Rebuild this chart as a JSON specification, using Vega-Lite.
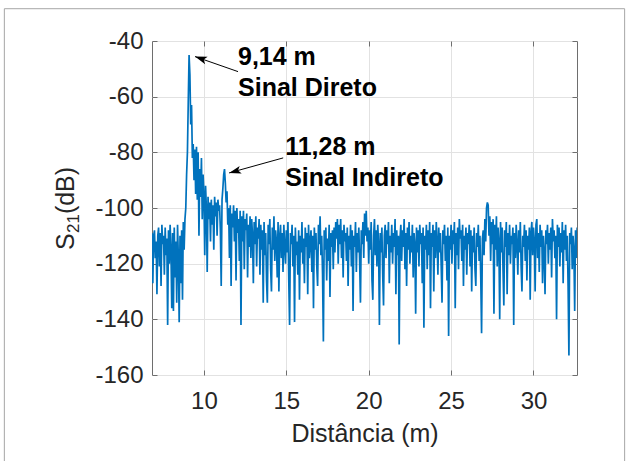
{
"$schema":"https://vega.github.io/schema/vega-lite/v6.json",
"width":425,"height":334,
"autosize":"none",
"padding":{"left":152,"top":41,"right":53,"bottom":86},
"background":"white",
"config":{
 "view":{"stroke":"#6e6e6e","strokeWidth":1},
 "font":"Liberation Sans",
 "axis":{"domain":false,"grid":true,"gridColor":"#e2e2e2","gridWidth":1,"ticks":true,"tickColor":"#6e6e6e","tickSize":-5,"labelFont":"Liberation Sans","labelFontSize":24,"labelColor":"#262626","titleFont":"Liberation Sans","titleFontSize":25,"titleFontWeight":"normal","titleColor":"#262626"}
},
"resolve":{"axis":{"x":"independent","y":"independent"}},
"layer":[
{
"encoding":{
 "x":{"field":"d","type":"quantitative","scale":{"domain":[6.85,32.64],"nice":false,"zero":false},"axis":{"title":"Distância (m)","values":[10,15,20,25,30],"labelExpr":"''+datum.value","labelPadding":19,"titlePadding":8}},
 "y":{"field":"s","type":"quantitative","scale":{"domain":[-160,-40],"nice":false,"zero":false},"axis":{"title":null,"values":[-160,-140,-120,-100,-80,-60,-40],"labelExpr":"''+datum.value","labelPadding":14}}
},
"layer":[
 {"data":{"values":[{"d":-2.11,"s":-28.4,"d2":35.53,"s2":-194}]},
  "mark":{"type":"rect","fill":"transparent","stroke":"#a6a6a6","strokeWidth":1,"clip":false},
  "encoding":{"x2":{"field":"d2"},"y2":{"field":"s2"}}},
 {"data":{"values":[
{"d":6.85,"s":-109},{"d":6.9,"s":-127},{"d":6.95,"s":-110},{"d":7,"s":-108},{"d":7.05,"s":-118},{"d":7.1,"s":-112},{"d":7.15,"s":-131},{"d":7.2,"s":-110},{"d":7.25,"s":-107},{"d":7.3,"s":-121},{"d":7.35,"s":-109},{"d":7.4,"s":-128},{"d":7.45,"s":-106},{"d":7.5,"s":-113},{"d":7.55,"s":-110},{"d":7.6,"s":-124},{"d":7.65,"s":-107},{"d":7.7,"s":-117},{"d":7.75,"s":-111},{"d":7.8,"s":-142},
{"d":7.85,"s":-108},{"d":7.9,"s":-120},{"d":7.95,"s":-106},{"d":8,"s":-115},{"d":8.05,"s":-136},{"d":8.1,"s":-109},{"d":8.15,"s":-137},{"d":8.2,"s":-107},{"d":8.25,"s":-125},{"d":8.3,"s":-112},{"d":8.35,"s":-134},{"d":8.4,"s":-106},{"d":8.45,"s":-118},{"d":8.5,"s":-141},{"d":8.55,"s":-110},{"d":8.6,"s":-127},{"d":8.65,"s":-108},{"d":8.7,"s":-133},{"d":8.75,"s":-105},{"d":8.8,"s":-115},
{"d":8.85,"s":-104},{"d":8.9,"s":-100},{"d":8.95,"s":-88},{"d":9,"s":-80},{"d":9.05,"s":-62},{"d":9.1,"s":-45},{"d":9.15,"s":-52},{"d":9.2,"s":-70},{"d":9.25,"s":-63},{"d":9.3,"s":-82},{"d":9.35,"s":-77},{"d":9.4,"s":-90},{"d":9.45,"s":-79},{"d":9.5,"s":-95},{"d":9.55,"s":-78},{"d":9.6,"s":-97},{"d":9.65,"s":-80},{"d":9.7,"s":-110},{"d":9.75,"s":-86},{"d":9.8,"s":-96},
{"d":9.85,"s":-82},{"d":9.9,"s":-104},{"d":9.95,"s":-88},{"d":10,"s":-95},{"d":10.05,"s":-117},{"d":10.1,"s":-92},{"d":10.15,"s":-100},{"d":10.2,"s":-123},{"d":10.25,"s":-96},{"d":10.3,"s":-104},{"d":10.35,"s":-98},{"d":10.4,"s":-112},{"d":10.45,"s":-97},{"d":10.5,"s":-106},{"d":10.55,"s":-99},{"d":10.6,"s":-115},{"d":10.65,"s":-96},{"d":10.7,"s":-103},{"d":10.75,"s":-98},{"d":10.8,"s":-110},
{"d":10.85,"s":-97},{"d":10.9,"s":-101},{"d":10.95,"s":-99},{"d":11,"s":-108},{"d":11.05,"s":-128},{"d":11.1,"s":-97},{"d":11.15,"s":-93},{"d":11.2,"s":-88},{"d":11.25,"s":-86},{"d":11.3,"s":-91},{"d":11.35,"s":-98},{"d":11.4,"s":-94},{"d":11.45,"s":-106},{"d":11.5,"s":-100},{"d":11.55,"s":-118},{"d":11.6,"s":-99},{"d":11.65,"s":-128},{"d":11.7,"s":-102},{"d":11.75,"s":-107},{"d":11.8,"s":-99},
{"d":11.85,"s":-112},{"d":11.9,"s":-101},{"d":11.95,"s":-126},{"d":12,"s":-100},{"d":12.05,"s":-109},{"d":12.1,"s":-104},{"d":12.15,"s":-119},{"d":12.2,"s":-101},{"d":12.25,"s":-142},{"d":12.3,"s":-103},{"d":12.35,"s":-112},{"d":12.4,"s":-101},{"d":12.45,"s":-122},{"d":12.5,"s":-104},{"d":12.55,"s":-108},{"d":12.6,"s":-102},{"d":12.65,"s":-125},{"d":12.7,"s":-106},{"d":12.75,"s":-114},{"d":12.8,"s":-103},
{"d":12.85,"s":-118},{"d":12.9,"s":-104},{"d":12.95,"s":-110},{"d":13,"s":-127},{"d":13.05,"s":-105},{"d":13.1,"s":-113},{"d":13.15,"s":-103},{"d":13.2,"s":-121},{"d":13.25,"s":-107},{"d":13.3,"s":-111},{"d":13.35,"s":-104},{"d":13.4,"s":-124},{"d":13.45,"s":-106},{"d":13.5,"s":-115},{"d":13.55,"s":-108},{"d":13.6,"s":-134},{"d":13.65,"s":-105},{"d":13.7,"s":-117},{"d":13.75,"s":-109},{"d":13.8,"s":-126},
{"d":13.85,"s":-134},{"d":13.9,"s":-106},{"d":13.95,"s":-113},{"d":14,"s":-104},{"d":14.05,"s":-122},{"d":14.1,"s":-130},{"d":14.15,"s":-107},{"d":14.2,"s":-115},{"d":14.25,"s":-103},{"d":14.3,"s":-119},{"d":14.35,"s":-108},{"d":14.4,"s":-112},{"d":14.45,"s":-125},{"d":14.5,"s":-105},{"d":14.55,"s":-130},{"d":14.6,"s":-110},{"d":14.65,"s":-106},{"d":14.7,"s":-118},{"d":14.75,"s":-109},{"d":14.8,"s":-123},
{"d":14.85,"s":-106},{"d":14.9,"s":-114},{"d":14.95,"s":-120},{"d":15,"s":-108},{"d":15.05,"s":-116},{"d":15.1,"s":-105},{"d":15.15,"s":-126},{"d":15.2,"s":-142},{"d":15.25,"s":-109},{"d":15.3,"s":-113},{"d":15.35,"s":-106},{"d":15.4,"s":-121},{"d":15.45,"s":-110},{"d":15.5,"s":-141},{"d":15.55,"s":-107},{"d":15.6,"s":-117},{"d":15.65,"s":-112},{"d":15.7,"s":-124},{"d":15.75,"s":-108},{"d":15.8,"s":-133},
{"d":15.85,"s":-110},{"d":15.9,"s":-116},{"d":15.95,"s":-105},{"d":16,"s":-120},{"d":16.05,"s":-111},{"d":16.1,"s":-127},{"d":16.15,"s":-107},{"d":16.2,"s":-114},{"d":16.25,"s":-109},{"d":16.3,"s":-131},{"d":16.35,"s":-106},{"d":16.4,"s":-118},{"d":16.45,"s":-112},{"d":16.5,"s":-108},{"d":16.55,"s":-123},{"d":16.6,"s":-110},{"d":16.65,"s":-136},{"d":16.7,"s":-107},{"d":16.75,"s":-115},{"d":16.8,"s":-109},
{"d":16.85,"s":-121},{"d":16.9,"s":-128},{"d":16.95,"s":-106},{"d":17,"s":-113},{"d":17.05,"s":-103},{"d":17.1,"s":-117},{"d":17.15,"s":-110},{"d":17.2,"s":-124},{"d":17.25,"s":-148},{"d":17.3,"s":-108},{"d":17.35,"s":-115},{"d":17.4,"s":-107},{"d":17.45,"s":-126},{"d":17.5,"s":-111},{"d":17.55,"s":-119},{"d":17.6,"s":-106},{"d":17.65,"s":-132},{"d":17.7,"s":-109},{"d":17.75,"s":-114},{"d":17.8,"s":-108},
{"d":17.85,"s":-122},{"d":17.9,"s":-107},{"d":17.95,"s":-116},{"d":18,"s":-105},{"d":18.05,"s":-111},{"d":18.1,"s":-104},{"d":18.15,"s":-120},{"d":18.2,"s":-106},{"d":18.25,"s":-113},{"d":18.3,"s":-104},{"d":18.35,"s":-118},{"d":18.4,"s":-108},{"d":18.45,"s":-125},{"d":18.5,"s":-106},{"d":18.55,"s":-112},{"d":18.6,"s":-109},{"d":18.65,"s":-119},{"d":18.7,"s":-107},{"d":18.75,"s":-128},{"d":18.8,"s":-110},
{"d":18.85,"s":-115},{"d":18.9,"s":-106},{"d":18.95,"s":-121},{"d":19,"s":-108},{"d":19.05,"s":-137},{"d":19.1,"s":-110},{"d":19.15,"s":-114},{"d":19.2,"s":-105},{"d":19.25,"s":-123},{"d":19.3,"s":-109},{"d":19.35,"s":-116},{"d":19.4,"s":-107},{"d":19.45,"s":-119},{"d":19.5,"s":-134},{"d":19.55,"s":-108},{"d":19.6,"s":-113},{"d":19.65,"s":-105},{"d":19.7,"s":-118},{"d":19.75,"s":-102},{"d":19.8,"s":-110},
{"d":19.85,"s":-101},{"d":19.9,"s":-112},{"d":19.95,"s":-107},{"d":20,"s":-120},{"d":20.05,"s":-108},{"d":20.1,"s":-115},{"d":20.15,"s":-105},{"d":20.2,"s":-126},{"d":20.25,"s":-133},{"d":20.3,"s":-110},{"d":20.35,"s":-104},{"d":20.4,"s":-117},{"d":20.45,"s":-108},{"d":20.5,"s":-121},{"d":20.55,"s":-106},{"d":20.6,"s":-113},{"d":20.65,"s":-142},{"d":20.7,"s":-109},{"d":20.75,"s":-116},{"d":20.8,"s":-107},
{"d":20.85,"s":-124},{"d":20.9,"s":-135},{"d":20.95,"s":-110},{"d":21,"s":-106},{"d":21.05,"s":-118},{"d":21.1,"s":-108},{"d":21.15,"s":-113},{"d":21.2,"s":-105},{"d":21.25,"s":-127},{"d":21.3,"s":-110},{"d":21.35,"s":-116},{"d":21.4,"s":-106},{"d":21.45,"s":-120},{"d":21.5,"s":-109},{"d":21.55,"s":-114},{"d":21.6,"s":-104},{"d":21.65,"s":-131},{"d":21.7,"s":-108},{"d":21.75,"s":-117},{"d":21.8,"s":-110},
{"d":21.85,"s":-149},{"d":21.9,"s":-111},{"d":21.95,"s":-106},{"d":22,"s":-119},{"d":22.05,"s":-108},{"d":22.1,"s":-114},{"d":22.15,"s":-104},{"d":22.2,"s":-122},{"d":22.25,"s":-109},{"d":22.3,"s":-128},{"d":22.35,"s":-107},{"d":22.4,"s":-115},{"d":22.45,"s":-105},{"d":22.5,"s":-120},{"d":22.55,"s":-110},{"d":22.6,"s":-116},{"d":22.65,"s":-106},{"d":22.7,"s":-125},{"d":22.75,"s":-109},{"d":22.8,"s":-113},
{"d":22.85,"s":-138},{"d":22.9,"s":-107},{"d":22.95,"s":-116},{"d":23,"s":-108},{"d":23.05,"s":-121},{"d":23.1,"s":-106},{"d":23.15,"s":-113},{"d":23.2,"s":-109},{"d":23.25,"s":-127},{"d":23.3,"s":-107},{"d":23.35,"s":-143},{"d":23.4,"s":-110},{"d":23.45,"s":-115},{"d":23.5,"s":-106},{"d":23.55,"s":-122},{"d":23.6,"s":-108},{"d":23.65,"s":-117},{"d":23.7,"s":-105},{"d":23.75,"s":-136},{"d":23.8,"s":-109},
{"d":23.85,"s":-114},{"d":23.9,"s":-106},{"d":23.95,"s":-130},{"d":24,"s":-108},{"d":24.05,"s":-118},{"d":24.1,"s":-105},{"d":24.15,"s":-112},{"d":24.2,"s":-124},{"d":24.25,"s":-107},{"d":24.3,"s":-116},{"d":24.35,"s":-109},{"d":24.4,"s":-121},{"d":24.45,"s":-134},{"d":24.5,"s":-108},{"d":24.55,"s":-113},{"d":24.6,"s":-106},{"d":24.65,"s":-119},{"d":24.7,"s":-110},{"d":24.75,"s":-126},{"d":24.8,"s":-107},
{"d":24.85,"s":-146},{"d":24.9,"s":-110},{"d":24.95,"s":-115},{"d":25,"s":-106},{"d":25.05,"s":-120},{"d":25.1,"s":-108},{"d":25.15,"s":-113},{"d":25.2,"s":-105},{"d":25.25,"s":-136},{"d":25.3,"s":-109},{"d":25.35,"s":-117},{"d":25.4,"s":-107},{"d":25.45,"s":-122},{"d":25.5,"s":-104},{"d":25.55,"s":-111},{"d":25.6,"s":-108},{"d":25.65,"s":-119},{"d":25.7,"s":-106},{"d":25.75,"s":-128},{"d":25.8,"s":-110},
{"d":25.85,"s":-115},{"d":25.9,"s":-107},{"d":25.95,"s":-124},{"d":26,"s":-109},{"d":26.05,"s":-113},{"d":26.1,"s":-106},{"d":26.15,"s":-121},{"d":26.2,"s":-108},{"d":26.25,"s":-130},{"d":26.3,"s":-110},{"d":26.35,"s":-116},{"d":26.4,"s":-107},{"d":26.45,"s":-122},{"d":26.5,"s":-128},{"d":26.55,"s":-109},{"d":26.6,"s":-114},{"d":26.65,"s":-106},{"d":26.7,"s":-119},{"d":26.75,"s":-110},{"d":26.8,"s":-125},
{"d":26.85,"s":-145},{"d":26.9,"s":-111},{"d":26.95,"s":-108},{"d":27,"s":-117},{"d":27.05,"s":-104},{"d":27.1,"s":-112},{"d":27.15,"s":-100},{"d":27.2,"s":-98},{"d":27.25,"s":-99},{"d":27.3,"s":-110},{"d":27.35,"s":-103},{"d":27.4,"s":-119},{"d":27.45,"s":-105},{"d":27.5,"s":-113},{"d":27.55,"s":-104},{"d":27.6,"s":-138},{"d":27.65,"s":-106},{"d":27.7,"s":-115},{"d":27.75,"s":-103},{"d":27.8,"s":-121},
{"d":27.85,"s":-107},{"d":27.9,"s":-112},{"d":27.95,"s":-140},{"d":28,"s":-105},{"d":28.05,"s":-116},{"d":28.1,"s":-107},{"d":28.15,"s":-122},{"d":28.2,"s":-135},{"d":28.25,"s":-108},{"d":28.3,"s":-114},{"d":28.35,"s":-105},{"d":28.4,"s":-131},{"d":28.45,"s":-109},{"d":28.5,"s":-117},{"d":28.55,"s":-106},{"d":28.6,"s":-120},{"d":28.65,"s":-110},{"d":28.7,"s":-113},{"d":28.75,"s":-107},{"d":28.8,"s":-142},
{"d":28.85,"s":-109},{"d":28.9,"s":-118},{"d":28.95,"s":-106},{"d":29,"s":-113},{"d":29.05,"s":-124},{"d":29.1,"s":-108},{"d":29.15,"s":-116},{"d":29.2,"s":-105},{"d":29.25,"s":-121},{"d":29.3,"s":-130},{"d":29.35,"s":-110},{"d":29.4,"s":-114},{"d":29.45,"s":-106},{"d":29.5,"s":-119},{"d":29.55,"s":-108},{"d":29.6,"s":-126},{"d":29.65,"s":-110},{"d":29.7,"s":-115},{"d":29.75,"s":-107},{"d":29.8,"s":-133},
{"d":29.85,"s":-109},{"d":29.9,"s":-105},{"d":29.95,"s":-117},{"d":30,"s":-107},{"d":30.05,"s":-112},{"d":30.1,"s":-130},{"d":30.15,"s":-106},{"d":30.2,"s":-104},{"d":30.25,"s":-118},{"d":30.3,"s":-109},{"d":30.35,"s":-123},{"d":30.4,"s":-106},{"d":30.45,"s":-114},{"d":30.5,"s":-108},{"d":30.55,"s":-127},{"d":30.6,"s":-110},{"d":30.65,"s":-116},{"d":30.7,"s":-131},{"d":30.75,"s":-108},{"d":30.8,"s":-113},
{"d":30.85,"s":-106},{"d":30.9,"s":-120},{"d":30.95,"s":-109},{"d":31,"s":-115},{"d":31.05,"s":-107},{"d":31.1,"s":-125},{"d":31.15,"s":-104},{"d":31.2,"s":-112},{"d":31.25,"s":-108},{"d":31.3,"s":-118},{"d":31.35,"s":-110},{"d":31.4,"s":-140},{"d":31.45,"s":-106},{"d":31.5,"s":-114},{"d":31.55,"s":-107},{"d":31.6,"s":-121},{"d":31.65,"s":-109},{"d":31.7,"s":-116},{"d":31.75,"s":-105},{"d":31.8,"s":-127},
{"d":31.85,"s":-108},{"d":31.9,"s":-115},{"d":31.95,"s":-106},{"d":32,"s":-119},{"d":32.05,"s":-110},{"d":32.1,"s":-128},{"d":32.15,"s":-153},{"d":32.2,"s":-109},{"d":32.25,"s":-113},{"d":32.3,"s":-107},{"d":32.35,"s":-122},{"d":32.4,"s":-110},{"d":32.45,"s":-115},{"d":32.5,"s":-137},{"d":32.55,"s":-108},{"d":32.6,"s":-118},{"d":32.65,"s":-107}
 ]},
  "mark":{"type":"line","color":"#0072BD","strokeWidth":1.7,"clip":true}},
 {"data":{"values":[{"d":12.07,"s":-51.0,"d2":9.46,"s2":-45.6},{"d":14.81,"s":-82.0,"d2":11.53,"s2":-87.4}]},
  "mark":{"type":"rule","color":"black","strokeWidth":1},
  "encoding":{"x2":{"field":"d2"},"y2":{"field":"s2"}}},
 {"data":{"values":[{"d":9.46,"s":-45.6}]},
  "mark":{"type":"point","shape":"M0,0L0.55,1.7L0,1.3L-0.55,1.7Z","filled":true,"color":"black","opacity":1,"size":200,"angle":289}},
 {"data":{"values":[{"d":11.53,"s":-87.4}]},
  "mark":{"type":"point","shape":"M0,0L0.55,1.7L0,1.3L-0.55,1.7Z","filled":true,"color":"black","opacity":1,"size":200,"angle":254.5}},
 {"data":{"values":[{"d":12.07,"s":-45.6,"t":"9,14 m"},{"d":12.07,"s":-56.8,"t":"Sinal Direto"},{"d":14.93,"s":-78.0,"t":"11,28 m"},{"d":14.93,"s":-89.2,"t":"Sinal Indireto"}]},
  "mark":{"type":"text","align":"left","baseline":"middle","font":"Liberation Sans","fontSize":25,"fontWeight":"bold","color":"black"},
  "encoding":{"text":{"field":"t"}}},
 {"data":{"values":[{"d":2.12,"s":-115.1,"t":"S"},{"d":2.12,"s":-102.2,"t":"(dB)"}]},
  "mark":{"type":"text","align":"left","baseline":"alphabetic","angle":270,"font":"Liberation Sans","fontSize":25,"color":"#262626","clip":false},
  "encoding":{"text":{"field":"t"}}},
 {"data":{"values":[{"d":2.42,"s":-109.0,"t":"21"}]},
  "mark":{"type":"text","align":"left","baseline":"alphabetic","angle":270,"font":"Liberation Sans","fontSize":17,"color":"#262626","clip":false},
  "encoding":{"text":{"field":"t"}}}
]
},
{"data":{"values":[{}]},
 "mark":{"type":"point","opacity":0},
 "encoding":{
  "x":{"datum":20,"type":"quantitative","scale":{"domain":[6.85,32.64],"nice":false,"zero":false},"axis":{"orient":"top","labels":false,"title":null,"grid":false,"values":[10,15,20,25,30]}},
  "y":{"datum":-100,"type":"quantitative","scale":{"domain":[-160,-40],"nice":false,"zero":false},"axis":{"orient":"right","labels":false,"title":null,"grid":false,"values":[-160,-140,-120,-100,-80,-60,-40]}}
 }}
]
}
